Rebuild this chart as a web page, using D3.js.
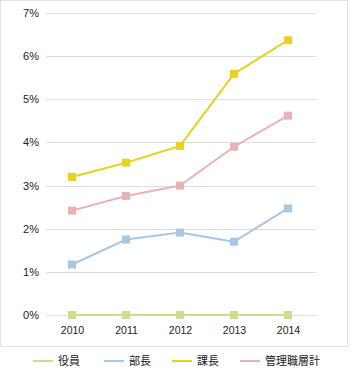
<!DOCTYPE html>
<html><head><meta charset="utf-8">
<script src="https://cdn.jsdelivr.net/npm/d3@7"></script>
<style>body{margin:0;background:#fff;}svg{display:block;}</style>
</head><body>
<script>
const years = ["2010","2011","2012","2013","2014"];
const yTicks = [0,1,2,3,4,5,6,7];
const seriesNames = ["役員","部長","課長","管理職層計"];
const seriesColors = ["#c6e08e","#a6c8e6","#e8d124","#e8b3b5"];
const yakuin = [0,0,0,0,0];
const bucho = [1.17,1.75,1.91,1.7,2.47];
const kacho = [3.2,3.53,3.92,5.59,6.37];
const kanrishoku = [2.42,2.76,3.0,3.9,4.62];
const seriesValues = [yakuin,bucho,kacho,kanrishoku];

const W=352,H=380;
const svg=d3.select("body").append("svg").attr("width",W).attr("height",H);
svg.append("rect").attr("x",0.5).attr("y",0.5).attr("width",347).attr("height",346)
  .attr("fill","#fff").attr("stroke","#e2e2e2");

const x=d3.scalePoint().domain(years).range([72,288]);
const y=d3.scaleLinear().domain([0,7]).range([315,13]);
const gridX0=46,gridX1=316;

const font="'Liberation Sans', Arial, sans-serif";
svg.append("g").selectAll("line").data(yTicks).join("line")
  .attr("x1",gridX0).attr("x2",gridX1)
  .attr("y1",d=>Math.round(y(d))+0.5).attr("y2",d=>Math.round(y(d))+0.5)
  .attr("stroke","#dedede");

const yAxis=d3.axisLeft(y).tickValues(yTicks).tickFormat(d=>d+"%").tickSize(0).tickPadding(0);
const ga=svg.append("g").attr("transform","translate(39,0)").call(yAxis);
ga.select(".domain").remove();
ga.selectAll("text").attr("font-family",font).attr("font-size",11).attr("fill","#222");

const xAxis=d3.axisBottom(x).tickSize(0).tickPadding(0);
const gx=svg.append("g").attr("transform","translate(0,326)").call(xAxis);
gx.select(".domain").remove();
gx.selectAll("text").attr("font-family",font).attr("font-size",10.5).attr("fill","#222").attr("dy","0.75em");

const line=d3.line().x((d,i)=>x(years[i])).y(d=>y(d));
seriesValues.forEach((vals,si)=>{
  svg.append("path").datum(vals).attr("d",line).attr("fill","none")
    .attr("stroke",seriesColors[si]).attr("stroke-width",2);
  svg.append("g").selectAll("rect").data(vals).join("rect")
    .attr("x",(d,i)=>x(years[i])-4).attr("y",d=>y(d)-4)
    .attr("width",8).attr("height",8).attr("fill",seriesColors[si]);
});

const legX=[33,104,172,240];
const lg=svg.append("g");
seriesNames.forEach((n,i)=>{
  lg.append("line").attr("x1",legX[i]).attr("x2",legX[i]+20).attr("y1",361).attr("y2",361)
    .attr("stroke",seriesColors[i]).attr("stroke-width",2);
  lg.append("text").attr("x",legX[i]+25).attr("y",361).attr("dy","0.35em")
    .attr("font-family","'Noto Sans CJK JP', sans-serif").attr("font-size",11).attr("fill","#222").text(n);
});
</script>
</body></html>
